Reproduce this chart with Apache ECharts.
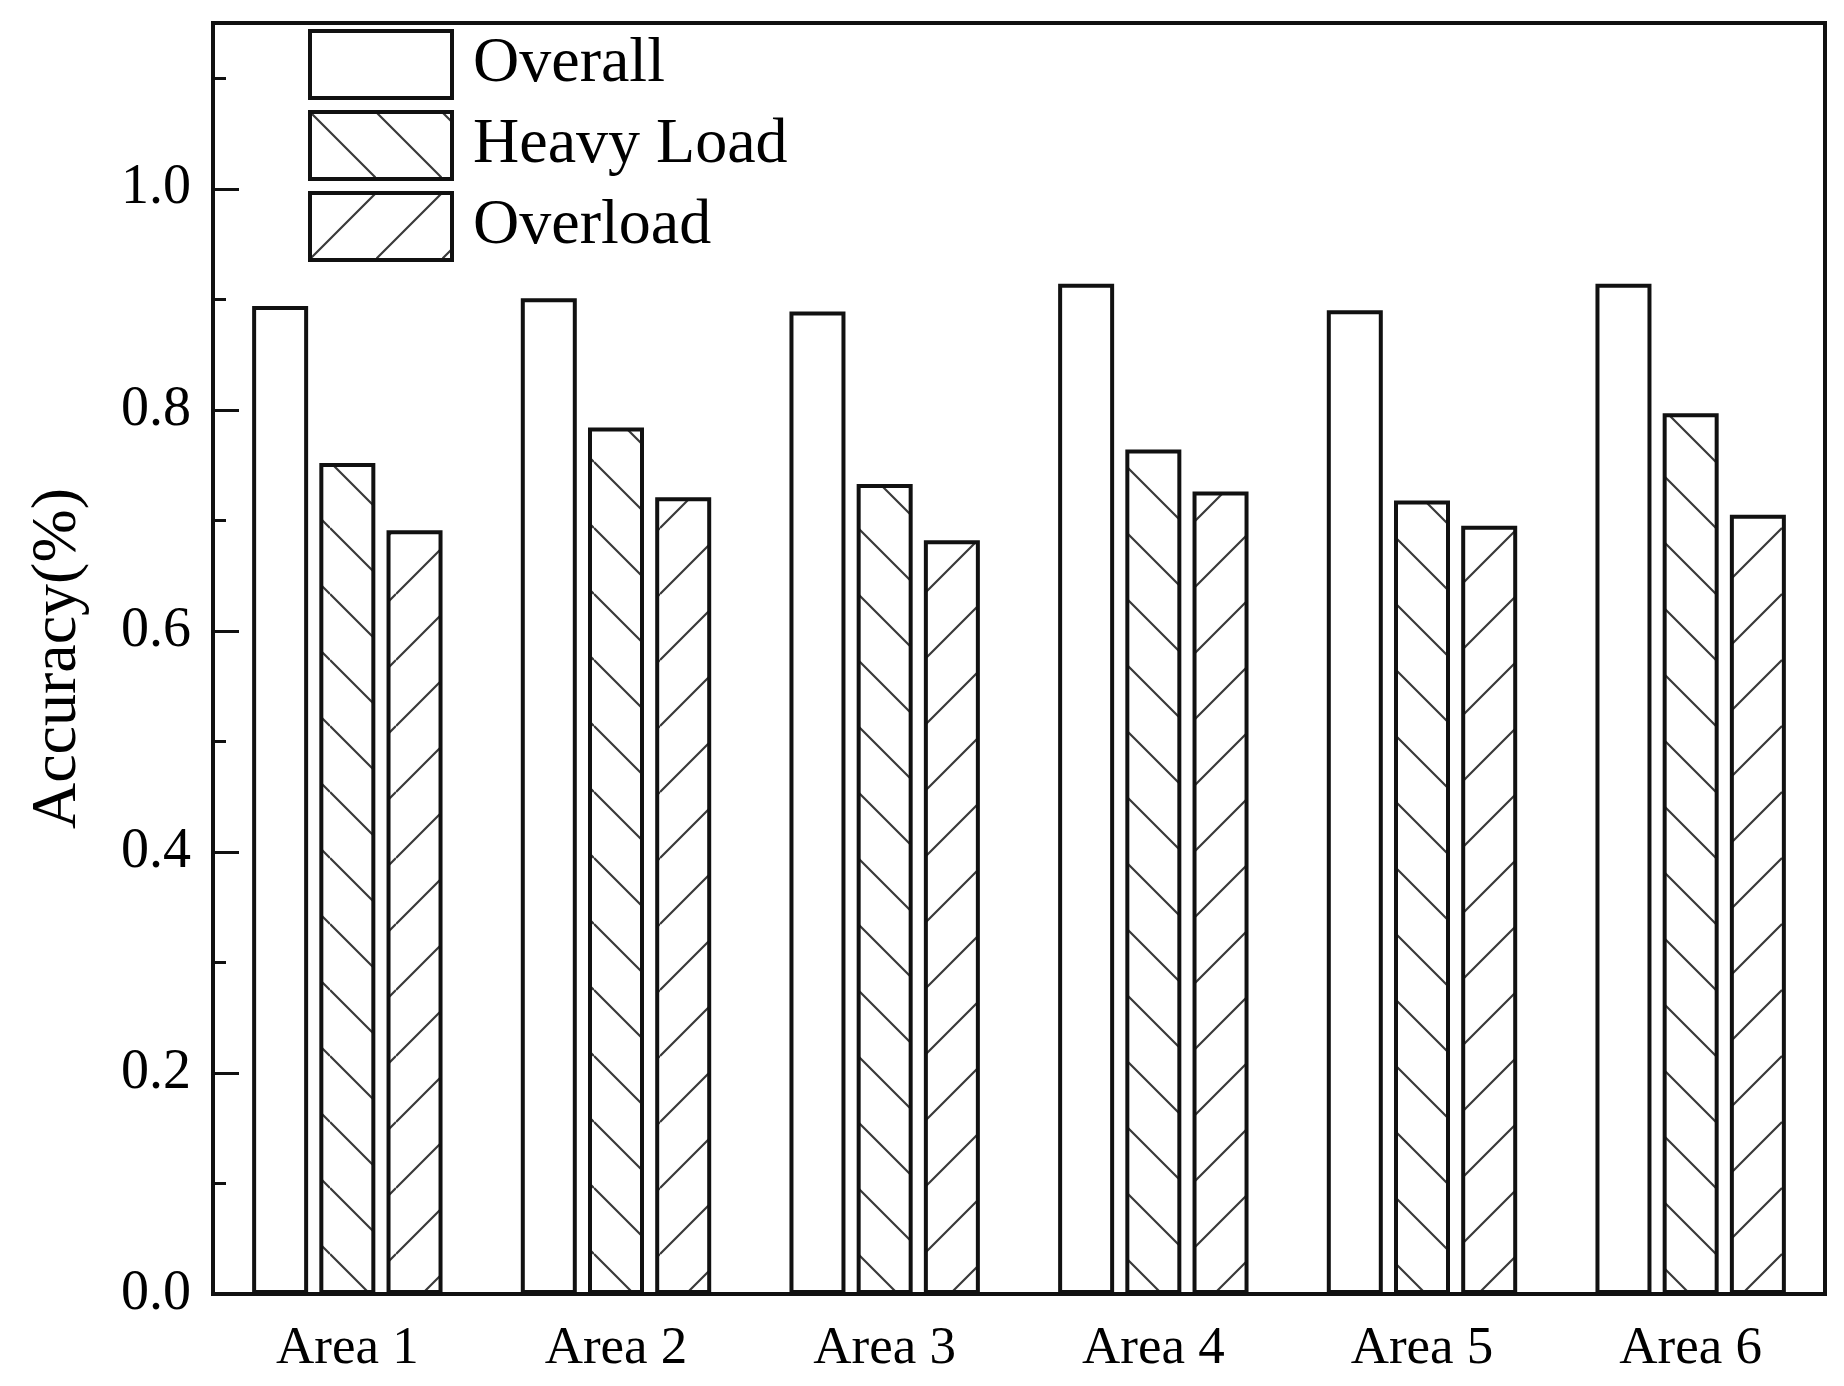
<!DOCTYPE html>
<html>
<head>
<meta charset="utf-8">
<script src="https://cdn.jsdelivr.net/npm/echarts@6/dist/echarts.min.js"></script>
<style>
html,body{margin:0;padding:0;background:#fff;}
#chart{width:1844px;height:1386px;}
</style>
</head>
<body>
<div id="chart"></div>
<script>
const categories = ['Area 1', 'Area 2', 'Area 3', 'Area 4', 'Area 5', 'Area 6'];
const seriesNames = ['Overall', 'Heavy Load', 'Overload'];
const overall = [0.894, 0.901, 0.889, 0.914, 0.890, 0.914];
const heavyLoad = [0.752, 0.784, 0.733, 0.764, 0.718, 0.797];
const overload = [0.691, 0.721, 0.682, 0.726, 0.695, 0.705];
const yMajorTicks = [0.0, 0.2, 0.4, 0.6, 0.8, 1.0];

const FONT = "'Liberation Serif', 'Times New Roman', serif";
const INK = '#111';

function makeHatch(dir) {
  const s = 66;
  const c = document.createElement('canvas');
  c.width = s; c.height = s;
  const g = c.getContext('2d');
  g.fillStyle = '#fff';
  g.fillRect(0, 0, s, s);
  g.strokeStyle = '#3a3a3a';
  g.lineWidth = 2.2;
  g.beginPath();
  for (let k = -1; k <= 1; k++) {
    if (dir === 'back') {
      g.moveTo(0, k * s); g.lineTo(s, s + k * s);
    } else {
      g.moveTo(0, s + k * s); g.lineTo(s, k * s);
    }
  }
  g.stroke();
  return { image: c, repeat: 'repeat' };
}

const chart = echarts.init(document.getElementById('chart'), null, { renderer: 'canvas' });

const barCommon = {
  type: 'bar',
  xAxisIndex: 0,
  yAxisIndex: 1,
  barWidth: 56,
  barGap: '20%'
};

chart.setOption({
  backgroundColor: '#fff',
  animation: false,
  grid: {
    left: 213, right: 19, top: 23, bottom: 92,
    show: true, borderColor: INK, borderWidth: 4, backgroundColor: 'transparent'
  },
  legend: {
    data: seriesNames,
    orient: 'vertical',
    left: 308, top: 29,
    padding: 0,
    itemWidth: 142, itemHeight: 67, itemGap: 10,
    icon: 'rect',
    itemStyle: { borderWidth: 4, borderColor: INK },
    textStyle: { fontFamily: FONT, fontSize: 64, color: '#000', lineHeight: 67, padding: [0, 0, 0, 16] }
  },
  xAxis: [{
    type: 'category',
    data: categories,
    axisLine: { show: true, lineStyle: { color: INK, width: 4 } },
    axisTick: { show: true, inside: true, alignWithLabel: true, length: 24, lineStyle: { color: INK, width: 3 } },
    axisLabel: { fontFamily: FONT, fontSize: 53, color: '#000', margin: 29 },
    splitLine: { show: false }
  }],
  yAxis: [{
    type: 'value', position: 'left',
    min: 0, max: 1.15, interval: 0.1,
    axisLine: { show: false },
    axisTick: { show: true, inside: true, length: 13, lineStyle: { color: INK, width: 3 } },
    axisLabel: { show: false },
    splitLine: { show: false }
  }, {
    type: 'value', position: 'left',
    min: 0, max: 1.15, interval: 0.2,
    name: 'Accuracy(%)', nameLocation: 'middle', nameRotate: 90, nameGap: 123,
    nameTextStyle: { fontFamily: FONT, fontSize: 64, color: '#000' },
    axisLine: { show: true, lineStyle: { color: INK, width: 4 } },
    axisTick: { show: true, inside: true, length: 26, lineStyle: { color: INK, width: 3 } },
    axisLabel: {
      fontFamily: FONT, fontSize: 56, color: '#000', margin: 22,
      formatter: function (v) {
        const hit = yMajorTicks.some(t => Math.abs(t - v) < 1e-6);
        return hit ? v.toFixed(1) : '';
      }
    },
    splitLine: { show: false }
  }],
  series: [
    Object.assign({}, barCommon, { name: seriesNames[0], data: overall, itemStyle: { color: '#fff', borderColor: INK, borderWidth: 4 } }),
    Object.assign({}, barCommon, { name: seriesNames[1], data: heavyLoad, itemStyle: { color: makeHatch('back'), borderColor: INK, borderWidth: 4 } }),
    Object.assign({}, barCommon, { name: seriesNames[2], data: overload, itemStyle: { color: makeHatch('fwd'), borderColor: INK, borderWidth: 4 } })
  ]
});
</script>
</body>
</html>
